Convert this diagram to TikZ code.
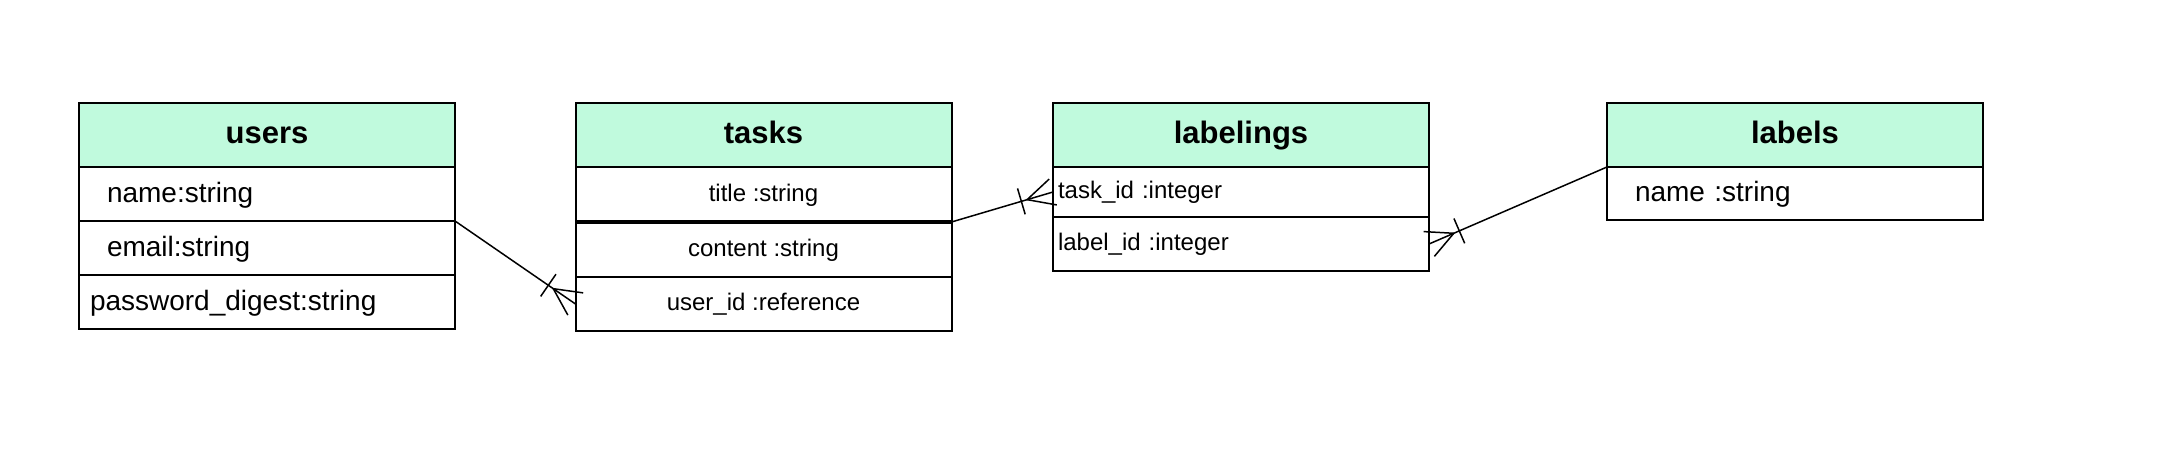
\documentclass[tikz,border=0pt]{standalone}
\usepackage{fontspec}
\setmainfont{Liberation Sans}
\usepackage{tikz}
\usetikzlibrary{decorations.markings}

\definecolor{headgreen}{RGB}{192,250,221}

\tikzset{
  head/.style={draw, line width=2pt, fill=headgreen, minimum width=376pt,
    minimum height=64pt, outer sep=0pt, text height=23pt, text depth=6.5pt,
    font=\fontsize{31}{36}\selectfont\bfseries},
  ufield/.style={draw, line width=2pt, minimum height=54pt, outer sep=0pt,
    anchor=north, inner xsep=28pt, text width=320pt, align=left,
    text height=21pt, text depth=5pt, font=\fontsize{28}{33}\selectfont},
  tfield/.style={draw, line width=2pt, minimum height=54pt, outer sep=0pt,
    anchor=north, minimum width=376pt, text height=18pt, text depth=5pt,
    font=\fontsize{24}{29}\selectfont},
  lfield/.style={draw, line width=2pt, minimum height=54pt, outer sep=0pt,
    anchor=north, inner xsep=5pt, text width=366pt, align=left,
    text height=18pt, text depth=5pt, font=\fontsize{24}{29}\selectfont},
  % one-or-many end
  link/.style={line width=1.5pt, postaction={decorate},
    decoration={markings, mark=at position 1 with {
      \draw[line width=1.5pt] (-27pt,0pt) -- (0pt,13.5pt)
        (-27pt,0pt) -- (0pt,-13.5pt)
        (-33pt,-13.5pt) -- (-33pt,13.5pt);}}}
}

\begin{document}
\begin{tikzpicture}[x=1pt,y=-1pt]

\useasboundingbox (0,0) rectangle (2158,458);

% users
\node[head] (users) at (267,135) {users};
\node[ufield] (users-name) at (users.south) {name:string};
\node[ufield] (users-email) at (users-name.south) {email:string};
\node[ufield, inner xsep=11pt, text width=354pt] (users-pass) at (users-email.south) {password\_digest:string};

% tasks
\node[head] (tasks) at (763.5,135) {tasks};
\node[tfield, minimum height=55pt] (tasks-title) at (tasks.south) {title :string};
\node[tfield, minimum height=55pt] (tasks-content) at (tasks-title.south) {content :string};
\node[tfield] (tasks-user) at (tasks-content.south) {user\_id :reference};
\draw[line width=3.5pt] (tasks-title.south west) -- (tasks-title.south east);

% labelings
\node[head] (labelings) at (1241,135) {labelings};
\node[lfield, minimum height=50pt] (labelings-task) at (labelings.south) {task\_id :integer};
\node[lfield] (labelings-label) at (labelings-task.south) {label\_id :integer};

% labels
\node[head] (labels) at (1795,135) {labels};
\node[ufield, minimum height=53pt] (labels-name) at (labels.south) {name :string};

\draw[link] (users-name.south east) -- (tasks-user.west);
\draw[link] (tasks-title.south east) -- (labelings-task.west);
\draw[link] (labels.south west) -- (labelings-label.east);

\end{tikzpicture}
\end{document}
